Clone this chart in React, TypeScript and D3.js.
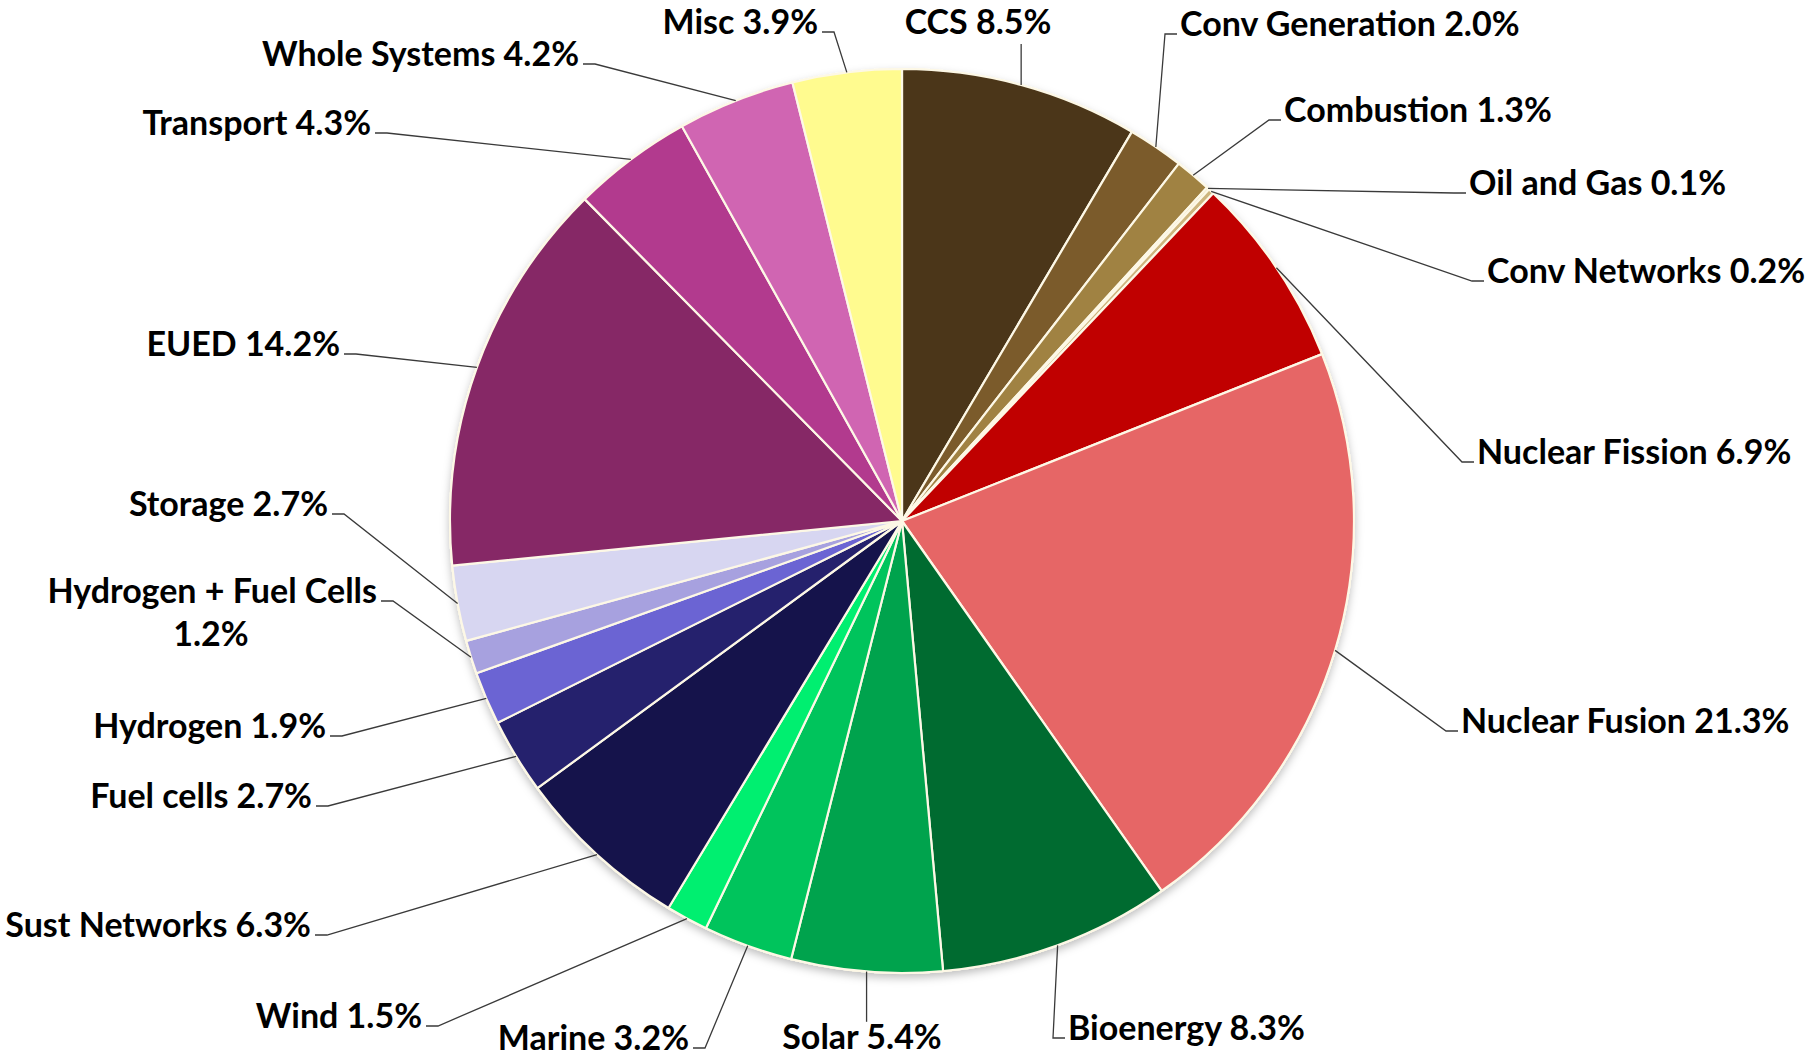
import React from "react";
import * as d3 from "d3";

// slice order runs clockwise from 12 o'clock
const categories = [
  "CCS",
  "Conv Generation",
  "Combustion",
  "Oil and Gas",
  "Conv Networks",
  "Nuclear Fission",
  "Nuclear Fusion",
  "Bioenergy",
  "Solar",
  "Marine",
  "Wind",
  "Sust Networks",
  "Fuel cells",
  "Hydrogen",
  "Hydrogen + Fuel Cells",
  "Storage",
  "EUED",
  "Transport",
  "Whole Systems",
  "Misc",
];

const shares = [
  8.5, 2.0, 1.3, 0.1, 0.2, 6.9, 21.3, 8.3, 5.4, 3.2, 1.5, 6.3, 2.7, 1.9, 1.2,
  2.7, 14.2, 4.3, 4.2, 3.9,
];

const colors = [
  "#4b3619",
  "#7b5b2b",
  "#a08242",
  "#e6dab8",
  "#cdb57e",
  "#c00000",
  "#e66666",
  "#006b30",
  "#00a34d",
  "#00c45c",
  "#00ef70",
  "#15134b",
  "#25216d",
  "#6b64d3",
  "#a7a1df",
  "#d7d6f1",
  "#862866",
  "#b23a8e",
  "#d065b2",
  "#fffb8f",
];

// label placement (manual data-label layout, like the original chart)
type Lab = { x: number; y: number; anchor: "start" | "end" | "middle"; lead: "stub" | "vertical" };
const labelLayout: Lab[] = [
  { x: 978, y: 34, anchor: "middle", lead: "vertical" },
  { x: 1180, y: 36, anchor: "start", lead: "stub" },
  { x: 1284, y: 122, anchor: "start", lead: "stub" },
  { x: 1469, y: 195, anchor: "start", lead: "stub" },
  { x: 1487, y: 283, anchor: "start", lead: "stub" },
  { x: 1477, y: 464, anchor: "start", lead: "stub" },
  { x: 1461, y: 733, anchor: "start", lead: "stub" },
  { x: 1068, y: 1040, anchor: "start", lead: "stub" },
  { x: 862, y: 1049, anchor: "middle", lead: "vertical" },
  { x: 689, y: 1050, anchor: "end", lead: "stub" },
  { x: 422, y: 1028, anchor: "end", lead: "stub" },
  { x: 311, y: 937, anchor: "end", lead: "stub" },
  { x: 312, y: 808, anchor: "end", lead: "stub" },
  { x: 326, y: 738, anchor: "end", lead: "stub" },
  { x: 377, y: 603, anchor: "end", lead: "stub" },
  { x: 328, y: 516, anchor: "end", lead: "stub" },
  { x: 340, y: 356, anchor: "end", lead: "stub" },
  { x: 371, y: 135, anchor: "end", lead: "stub" },
  { x: 579, y: 66, anchor: "end", lead: "stub" },
  { x: 818, y: 34, anchor: "end", lead: "stub" },
];

const W = 1807;
const H = 1059;
const CX = 902;
const CY = 521;
const R = 452;
const FONT = 34;

export default function App() {
  const arcs = d3
    .pie<number>()
    .value((d) => d)
    .sort(null)(shares);

  const arc = d3.arc<d3.PieArcDatum<number>>().innerRadius(0).outerRadius(R);
  const edge = d3.arc<d3.PieArcDatum<number>>().innerRadius(R).outerRadius(R);

  const leaders = arcs.map((a, i) => {
    const [ex, ey] = edge.centroid(a);
    const px = CX + ex;
    const py = CY + ey;
    const l = labelLayout[i];
    if (l.lead === "vertical") {
      const ty = py < CY ? l.y + 10 : l.y - FONT * 0.8;
      return d3.line()([
        [px, py],
        [px, ty],
      ]);
    }
    const sy = l.y - 2;
    let s0: number, s1: number;
    if (l.anchor === "start") {
      s1 = l.x - 3;
      s0 = s1 - 12;
    } else {
      s1 = l.x + 4;
      s0 = s1 + 12;
    }
    return d3.line()([
      [px, py],
      [s0, sy],
      [s1, sy],
    ]);
  });

  return (
    <svg
      width={W}
      height={H}
      style={{ position: "absolute", left: 0, top: 0, background: "#fff" }}
    >
      <defs>
        <filter id="shadow" x="-10%" y="-10%" width="120%" height="120%">
          <feDropShadow dx="0" dy="4" stdDeviation="4" floodColor="#000" floodOpacity="0.25" />
        </filter>
      </defs>
      <g transform={`translate(${CX},${CY})`}>
        <circle r={R + 1} fill="#fdf6e0" filter="url(#shadow)" />
        {arcs.map((a, i) => (
          <path
            key={categories[i]}
            d={arc(a) || ""}
            fill={colors[i]}
            stroke="#fdf8e6"
            strokeWidth={2.2}
            strokeLinejoin="round"
          />
        ))}
      </g>
      <g fill="none" stroke="#3a3a3a" strokeWidth={1.3}>
        {leaders.map((d, i) => (
          <path key={i} d={d || ""} />
        ))}
      </g>
      <g fontFamily="Lato, 'Open Sans', sans-serif" fontWeight={700} fontSize={FONT} fill="#000">
        {arcs.map((a, i) => {
          const l = labelLayout[i];
          const txt = `${categories[i]} ${shares[i].toFixed(1)}%`;
          if (categories[i] === "Hydrogen + Fuel Cells") {
            return (
              <g key={i}>
                <text x={l.x} y={l.y} textAnchor="end">
                  {categories[i]}
                </text>
                <text x={211} y={l.y + 43} textAnchor="middle">
                  {`${shares[i].toFixed(1)}%`}
                </text>
              </g>
            );
          }
          return (
            <text key={i} x={l.x} y={l.y} textAnchor={l.anchor}>
              {txt}
            </text>
          );
        })}
      </g>
    </svg>
  );
}
